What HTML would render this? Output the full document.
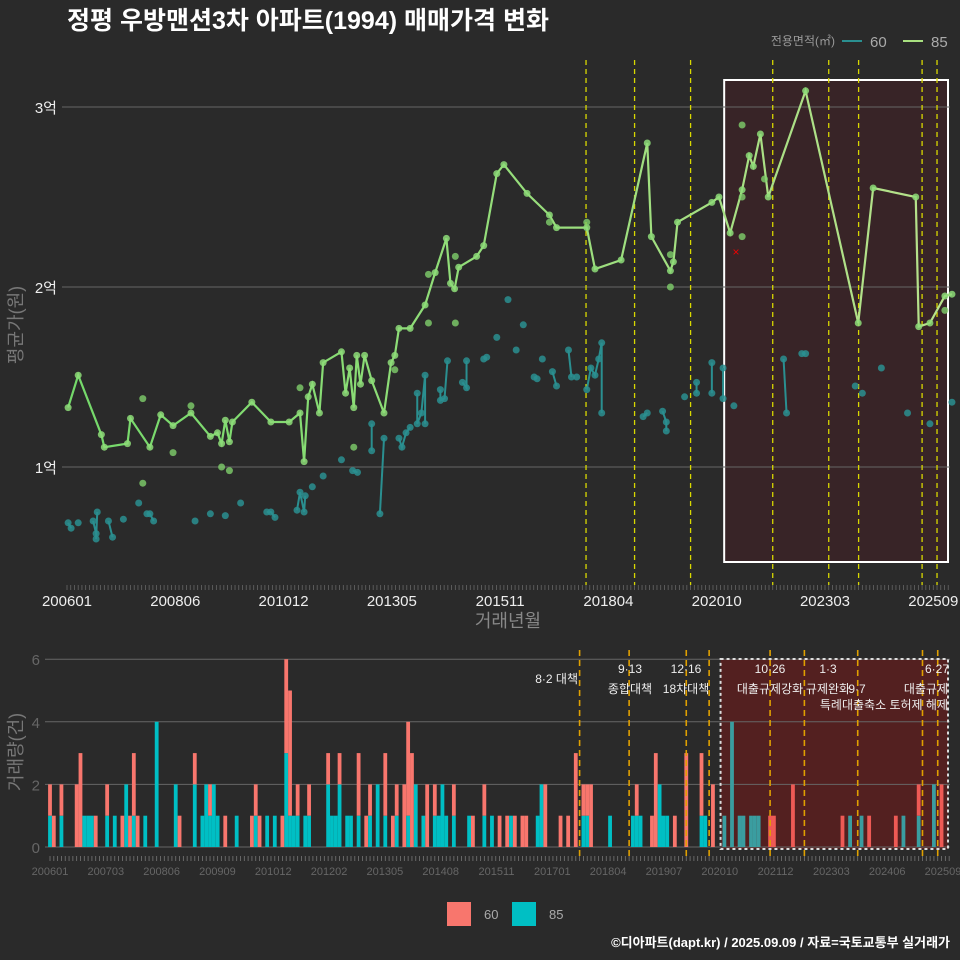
<!DOCTYPE html>
<html><head><meta charset="utf-8">
<style>
body{margin:0;background:#2a2a2a;}
svg{display:block;font-family:"Liberation Sans","Noto Sans CJK KR",sans-serif;}
</style></head>
<body>
<svg id="chart" width="960" height="960" viewBox="0 0 960 960" xmlns="http://www.w3.org/2000/svg">
<defs>
<linearGradient id="gline" x1="0" x2="1" y1="0" y2="0">
<stop offset="0" stop-color="#74d96a"/><stop offset="1" stop-color="#b8e28c"/>
</linearGradient>
</defs>
<rect width="960" height="960" fill="#2a2a2a"/>
<text x="67" y="29" fill="#ffffff" font-size="25" font-weight="bold">정평 우방맨션3차 아파트(1994) 매매가격 변화</text>
<g>
<text x="835" y="45" fill="#999" font-size="12" text-anchor="end">전용면적(㎡)</text>
<line x1="842" y1="41" x2="862" y2="41" stroke="#2a8f90" stroke-width="2"/>
<text x="870" y="47" fill="#aaa" font-size="15">60</text>
<line x1="903" y1="41" x2="923" y2="41" stroke="#a8e080" stroke-width="2"/>
<text x="931" y="47" fill="#aaa" font-size="15">85</text>
</g>
<g id="topG"></g>
<g id="botG"></g>
<text transform="translate(22,325) rotate(-90)" fill="#777" font-size="18" text-anchor="middle">평균가(원)</text>
<text x="508" y="627" fill="#888" font-size="18" text-anchor="middle">거래년월</text>
<text transform="translate(22,752) rotate(-90)" fill="#777" font-size="18" text-anchor="middle">거래량(건)</text>
<g>
<rect x="447" y="902" width="24" height="24" fill="#f8766d"/>
<text x="484" y="919" fill="#aaa" font-size="13">60</text>
<rect x="512" y="902" width="24" height="24" fill="#00bfc4"/>
<text x="549" y="919" fill="#aaa" font-size="13">85</text>
</g>
<text x="950" y="947" fill="#fff" font-size="13" font-weight="bold" text-anchor="end">©디아파트(dapt.kr) / 2025.09.09 / 자료=국토교통부 실거래가</text>
</svg>
<script>
// ---- data (month index from 2006-01, price in 만원) ----
const greenLineMonths=[0.3,3,9.2,10,16.2,17,22.2,25.1,28.4,33.2,38.4,40.3,41.4,42.4,43.5,44.3,49.5,54.6,59.5,62.4,63.5,64.6,65.7,67.6,68.6,73.5,74.6,75.7,76.8,77.6,78.6,79.7,81.6,84.9,86.8,87.8,88.9,91.9,95.9,98.6,101.6,102.7,103.8,104.9,109.7,111.6,115.1,117,123.2,129.2,131.1,139.2,141.4,148.4,155.4,156.5,161.6,162.4,163.5,172.7,174.6,177.6,180.8,182.7,183.8,185.7,187.8,197.8,211.9,215.9,227.3,228.1,231.1,235.1,237];
const greenLinePrices=[13300,15100,11800,11100,11300,12700,11100,12900,12300,13000,11700,11900,11300,12600,11400,12500,13600,12500,12500,13000,10300,13900,14600,13000,15800,16400,14100,15500,13300,16200,14600,16200,14800,13000,15800,16200,17700,17700,19000,20800,22700,20200,19900,21100,21700,22300,26300,26800,25200,24000,23300,23300,21000,21500,28000,22800,20900,21400,23600,24700,25000,23000,25400,27300,26700,28500,25000,30900,18000,25500,25000,17800,18000,19500,19600];
const greenDotMonths=[20.3,20.3,28.4,33.2,41.4,43.5,62.4,76.8,96.8,96.8,104,104,87.8,129.2,139.2,161.6,161.6,180.8,180.8,180.8,186.8,235.1];
const greenDotPrices=[13800,9100,10800,13400,10000,9800,14400,11100,20700,18000,21700,18000,15400,23600,23600,21800,20000,29000,22800,25000,26000,18700];
const tealMonths=[0.3,1.1,3,7,7.8,7.8,8.1,11.1,12.2,15.1,19.2,21.4,22.2,23.2,34.3,38.4,42.4,46.5,53.5,54.6,55.7,61.6,62.4,63.5,63.8,65.7,68.6,73.5,76.5,77.8,81.6,81.6,83.8,84.9,88.9,89.7,90.8,91.9,93.8,93.8,94.9,95.9,95.9,100,100,101.1,101.9,105.9,107,107,111.6,112.4,115.1,118.1,120.3,122.2,125.1,125.9,127.3,130,131.1,134.3,135.1,136.5,139.2,140.3,141.4,142.4,143.2,143.2,154.3,155.4,159.5,160.5,160.5,165.4,168.6,168.6,172.7,172.7,175.7,175.7,178.6,191.9,192.7,196.8,197.8,211.1,213,218.1,225.1,231.1,237];
const tealPrices=[6900,6600,6900,7000,6300,6000,7500,7000,6100,7100,8000,7400,7400,7000,7000,7400,7300,8000,7500,7500,7200,7600,8600,7500,8400,8900,9500,10400,9800,9700,12400,10900,7400,11600,11600,11100,11900,12200,14100,12400,13000,15100,12400,14300,13700,13800,15900,14700,14400,15900,16000,16100,17200,19300,16500,17900,15000,14900,16000,15300,14500,16500,15000,15000,14300,15500,15100,16000,16900,13000,12800,13000,13100,12500,12000,13900,14700,14100,14100,15800,15500,13800,13400,16000,13000,16300,16300,14500,14100,15500,13000,12400,13600];
const topTickLabels=["200601","200806","201012","201305","201511","201804","202010","202303","202509"];
const topYTicks=[10000,20000,30000];
const topYLabels=["1억","2억","3억"];
const topPolicyMonths=[139,152,167,189,204,212,229,233];
// volumes: month index, count 85 (teal, stacked bottom), count 60 (red, on top)
const volMonths=[0,1,3,7,8,9,10,11,12,15,17,19,20,21,22,23,25,28,33,34,38,40,41,42,43,44,46,49,53,54,55,57,59,61,62,63,64,65,67,68,73,74,75,76,78,79,81,83,84,86,88,90,91,93,94,95,96,98,99,101,102,103,104,106,110,111,114,116,118,120,121,122,124,125,128,129,130,134,136,138,140,141,142,147,153,154,155,158,159,160,161,162,164,167,171,172,174,177,179,181,182,184,185,186,189,190,195,208,210,213,215,222,224,228,232,234];
const vol85=[1,0,1,0,0,1,1,1,0,1,1,0,2,0,1,0,1,4,2,0,2,1,2,1,2,1,0,1,0,1,0,1,1,0,3,1,1,1,1,1,2,1,1,2,1,1,1,0,1,2,1,0,1,0,1,0,2,1,0,1,1,2,1,1,1,0,1,1,0,0,1,0,0,0,1,2,0,0,0,0,1,1,0,1,1,1,1,0,0,2,1,1,0,0,1,1,0,1,4,1,1,1,1,1,0,0,0,0,1,1,0,0,1,1,2,0];
const vol60=[1,1,1,2,3,0,0,0,1,1,0,1,0,1,2,1,0,0,0,1,1,0,0,1,0,0,1,0,1,1,1,0,0,1,3,4,0,1,0,1,1,0,0,1,0,0,2,1,1,0,2,1,1,2,3,3,0,0,2,1,0,0,0,1,0,1,1,0,1,1,0,1,1,1,0,0,2,1,1,3,1,1,2,0,0,1,0,1,3,0,0,0,1,3,2,0,2,0,0,0,0,0,0,0,1,1,2,1,0,0,1,1,0,1,0,2];
const botTickLabels=["200601","200703","200806","200909","201012","201202","201305","201408","201511","201701","201804","201907","202010","202112","202303","202406","202509"];
const botYTicks=[0,2,4,6];
const botPolicyMonths=[139,152,167,173,189,198,212,229,233];

const NS="http://www.w3.org/2000/svg";
function mk(tag,attrs,parent){const e=document.createElementNS(NS,tag);for(const k in attrs)e.setAttribute(k,attrs[k]);parent.appendChild(e);return e;}
// axis functions
const xT=m=>67+m*3.734;
const yT=v=>647-v*0.018;
const xB=m=>50+m*3.81;
const yB=c=>847-c*31.3;

const topG=document.getElementById('topG');
const sh=mk('rect',{x:xT(176),y:80,width:948-xT(176),height:482,fill:'rgba(100,20,30,0.25)',stroke:'#fff','stroke-width':2},topG);


topYTicks.forEach((v,i)=>{
  const g=mk('line',{x1:62,x2:950,y1:yT(v),y2:yT(v),stroke:'#666','stroke-width':1},topG);
  
  
  const t=mk('text',{x:57,y:yT(v)+6,fill:'#eee','font-size':15,'text-anchor':'end'},topG);
  t.textContent=topYLabels[i];
  
  
});
for(let m=0;m<=236;m++){mk('line',{x1:xT(m),x2:xT(m),y1:585,y2:590,stroke:'#666','stroke-width':0.8},topG);}
topTickLabels.forEach((l,i)=>{
  const t=mk('text',{x:xT(i*29),y:606,fill:'#eee','font-size':15,'text-anchor':'middle'},topG);
  t.textContent=l;
  
  
});
topPolicyMonths.forEach(m=>{
  const l=mk('line',{x1:xT(m),x2:xT(m),y1:60,y2:585,stroke:'#d8d800','stroke-width':1.3,'stroke-dasharray':'5,4'},topG);
  
  
});
let segs=[],cur=[];
tealMonths.forEach((m,i)=>{
  if(i>0 && m-tealMonths[i-1]>1.3){segs.push(cur);cur=[];}
  cur.push([xT(m),yT(tealPrices[i])]);
});
segs.push(cur);
segs.forEach(s=>{if(s.length>1){const p=mk('polyline',{points:s.map(q=>q.join(',')).join(' '),fill:'none',stroke:'#2a8f90','stroke-width':2},topG);

}});
tealMonths.forEach((m,i)=>{
  const c=mk('circle',{cx:xT(m),cy:yT(tealPrices[i]),r:3.5,fill:'#2a8f90','fill-opacity':0.85},topG);
  
  
});
const gl=mk('polyline',{points:greenLineMonths.map((m,i)=>xT(m)+','+yT(greenLinePrices[i])).join(' '),fill:'none',stroke:'url(#gline)','stroke-width':2.2},topG);


greenLineMonths.forEach((m,i)=>{
  const c=mk('circle',{cx:xT(m),cy:yT(greenLinePrices[i]),r:3.5,fill:'#8ddc78','fill-opacity':0.85},topG);
  
  
});
greenDotMonths.forEach((m,i)=>{
  const c=mk('circle',{cx:xT(m),cy:yT(greenDotPrices[i]),r:3.5,fill:'#7fcf6c','fill-opacity':0.8},topG);
  
  
});
const xm=mk('text',{x:736,y:256,fill:'#e00','font-size':12,'text-anchor':'middle'},topG);
xm.textContent='×';



const botG=document.getElementById('botG');
const bsh=mk('rect',{x:xB(176),y:659,width:948-xB(176),height:190,fill:'rgba(140,20,20,0.42)'},botG);


botYTicks.forEach(v=>{
  const g=mk('line',{x1:45,x2:950,y1:yB(v),y2:yB(v),stroke:'#666','stroke-width':1},botG);
  
  
  const t=mk('text',{x:40,y:yB(v)+6,fill:'#666','font-size':15,'text-anchor':'end'},botG);
  t.textContent=v;
  
  
});
volMonths.forEach((m,i)=>{
  const x=xB(m)-1.9;
  const inBox=m>=176;
  if(vol85[i]>0){const r=mk('rect',{x:x,y:yB(vol85[i]),width:3.8,height:vol85[i]*31.3,fill:inBox?'#3a9da0':'#00bfc4'},botG);
  
  }
  if(vol60[i]>0){const r=mk('rect',{x:x,y:yB(vol85[i]+vol60[i]),width:3.8,height:vol60[i]*31.3,fill:inBox?'#ee5a55':'#f8766d'},botG);
  
  }
});
const bbox=mk('rect',{x:xB(176),y:659,width:948-xB(176),height:190,fill:'none',stroke:'#ddd','stroke-width':2,'stroke-dasharray':'3,3'},botG);


botPolicyMonths.forEach(m=>{
  const l=mk('line',{x1:xB(m),x2:xB(m),y1:650,y2:857,stroke:'#e0a000','stroke-width':1.6,'stroke-dasharray':'6,4'},botG);
  
  
});
for(let m=0;m<=236;m++){mk('line',{x1:xB(m),x2:xB(m),y1:856,y2:861,stroke:'#777','stroke-width':0.8},botG);}
botTickLabels.forEach((l,i)=>{
  const t=mk('text',{x:50+i*(893/16),y:875,fill:'#666','font-size':11,'text-anchor':'middle'},botG);
  t.textContent=l;
  
  
});
const notes=[[578,683,'8·2 대책','end'],[630,673,'9·13','middle'],[630,693,'종합대책','middle'],[686,673,'12·16','middle'],[686,693,'18차대책','middle'],[770,673,'10·26','middle'],[770,693,'대출규제강화','middle'],[828,673,'1·3','middle'],[828,693,'규제완화','middle'],[857,693,'9·7','middle'],[948,709,'특례대출축소 토허제 해제','end'],[937,673,'6·27','middle'],[948,693,'대출규제','end']];
notes.forEach(n=>{
  const t=mk('text',{x:n[0],y:n[1],fill:'#eee','font-size':12,'text-anchor':n[3]},botG);
  t.textContent=n[2];
  
  
});
</script>
</body></html>
